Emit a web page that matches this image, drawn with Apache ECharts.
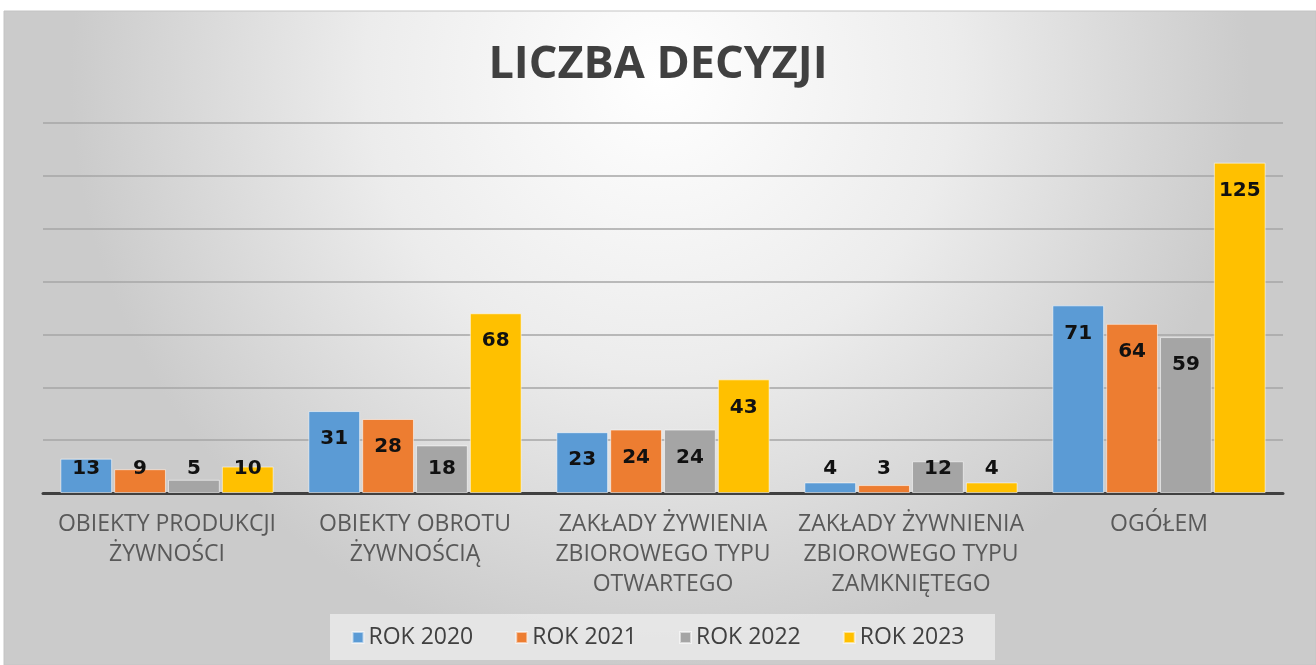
<!DOCTYPE html>
<html lang="pl">
<head>
<meta charset="utf-8">
<title>Liczba decyzji</title>
<script src="https://cdn.jsdelivr.net/npm/echarts@6/dist/echarts.min.js"></script>
<style>
  html, body { margin: 0; padding: 0; background: #fff; }
  #chart { width: 1316px; height: 665px; }
</style>
</head>
<body>
<div id="chart"></div>
<script>
// dane
var categories = [
  'OBIEKTY PRODUKCJI\nŻYWNOŚCI',
  'OBIEKTY OBROTU\nŻYWNOŚCIĄ',
  'ZAKŁADY ŻYWIENIA\nZBIOROWEGO TYPU\nOTWARTEGO',
  'ZAKŁADY ŻYWNIENIA\nZBIOROWEGO TYPU\nZAMKNIĘTEGO',
  'OGÓŁEM'
];
var seriesNames = ['ROK 2020', 'ROK 2021', 'ROK 2022', 'ROK 2023'];
var rok2020 = [13, 31, 23, 4, 71];
var rok2021 = [9, 28, 24, 3, 64];
var rok2022 = [5, 18, 24, 12, 59];
var rok2023 = [10, 68, 43, 4, 125];
var colors = ['#5b9bd5', '#ed7d31', '#a5a5a5', '#ffc000'];

var chart = echarts.init(document.getElementById('chart'));

// krótkie słupki: etykieta nad podstawą zamiast wewnątrz
function withLabels(values) {
  return values.map(function (v) {
    if (v < 20) {
      return { value: v, label: { position: 'insideBottom', distance: 14 } };
    }
    return v;
  });
}

var allValues = [rok2020, rok2021, rok2022, rok2023];
var series = allValues.map(function (vals, i) {
  return {
    name: seriesNames[i],
    type: 'bar',
    data: withLabels(vals),
    barGap: '4%',
    barCategoryGap: '14%',
    itemStyle: { color: colors[i], borderColor: 'rgba(255,255,255,0.55)', borderWidth: 1 },
    label: {
      show: true,
      position: 'insideTop',
      distance: 18,
      color: '#111',
      fontFamily: 'DejaVu Sans',
      fontWeight: 'bold',
      fontSize: 20
    }
  };
});

chart.setOption({
  animation: false,
  backgroundColor: '#fff',
  graphic: [{
    type: 'rect',
    z: -10,
    shape: { x: 4, y: 11, width: 1312, height: 654 },
    style: {
      fill: {
        type: 'radial', x: 0.5, y: 0.1, r: 0.9,
        colorStops: [
          { offset: 0, color: '#ffffff' },
          { offset: 0.5, color: '#ececec' },
          { offset: 1, color: '#cbcbcb' }
        ]
      },
      stroke: '#c4c4c4',
      lineWidth: 1
    }
  }, {
    type: 'rect',
    z: -5,
    shape: { x: 330, y: 614, width: 665, height: 46 },
    style: { fill: 'rgba(232,232,232,0.9)' }
  }],
  title: {
    text: 'LICZBA DECYZJI',
    left: 'center',
    top: 38,
    textStyle: {
      fontFamily: 'Open Sans',
      fontWeight: 'bold',
      fontSize: 45,
      color: '#404040'
    }
  },
  legend: {
    bottom: 11,
    left: 'center',
    itemWidth: 11,
    itemHeight: 11,
    itemGap: 42,
    icon: 'rect',
    textStyle: { fontFamily: 'Open Sans', fontSize: 23, color: '#404040' }
  },
  grid: { left: 43, right: 33, top: 123, bottom: 172 },
  xAxis: {
    type: 'category',
    data: categories,
    axisTick: { show: false },
    axisLine: { lineStyle: { color: '#404040', width: 3 } },
    axisLabel: {
      margin: 16,
      interval: 0,
      fontFamily: 'Open Sans',
      fontSize: 23,
      lineHeight: 30,
      color: '#595959'
    }
  },
  yAxis: {
    type: 'value',
    min: 0,
    max: 140,
    interval: 20,
    axisLabel: { show: false },
    axisLine: { show: false },
    axisTick: { show: false },
    splitLine: { lineStyle: { color: '#a6a6a6', width: 1.5 } }
  },
  series: series
});
</script>
</body>
</html>
